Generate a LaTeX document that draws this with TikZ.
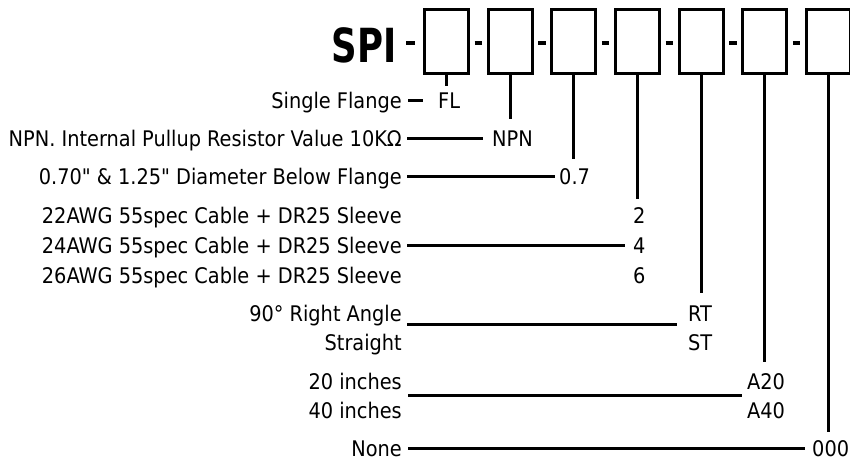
\documentclass[tikz,border=0pt]{standalone}
\usepackage{fontspec}
\setmainfont{DejaVu Sans Condensed}
\usetikzlibrary{calc}
\begin{document}
\begin{tikzpicture}[x=1pt,y=-1pt,
  lab/.style={anchor=base east, inner sep=0pt, font=\fontsize{21.5}{24}\selectfont, text height=15.6pt, text depth=0pt},
  val/.style={anchor=base west, inner sep=0pt, font=\fontsize{21.5}{24}\selectfont, text height=15.6pt, text depth=0pt},
  pbox/.style={draw, line width=3.2pt, minimum width=44pt, minimum height=64pt, inner sep=0pt},
  conn/.style={line width=2.8pt},
  hy/.style={line width=3.5pt}]
\useasboundingbox (0,0) rectangle (850,463);
\clip (0,0) rectangle (850,463);

% title
\node[anchor=base east, inner sep=0pt, font=\bfseries\fontsize{47}{50}\selectfont] (spi) at (397,62) {\scalebox{0.84}[1]{SPI}};

% boxes
\node[pbox] (b1) at (446.5,41.5) {};
\node[pbox] (b2) at (510.2,41.5) {};
\node[pbox] (b3) at (573.8,41.5) {};
\node[pbox] (b4) at (637.5,41.5) {};
\node[pbox] (b5) at (701.2,41.5) {};
\node[pbox] (b6) at (764.8,41.5) {};
\node[pbox] (b7) at (828.5,41.5) {};

% hyphens
\draw[hy] ([xshift=-16.5pt,yshift=-1.5pt]b1.west) -- ([xshift=-7.5pt,yshift=-1.5pt]b1.west);
\draw[hy] ([xshift=4.5pt,yshift=-1.5pt]b1.east) -- ([xshift=-4.5pt,yshift=-1.5pt]b2.west);
\draw[hy] ([xshift=4.5pt,yshift=-1.5pt]b2.east) -- ([xshift=-4.5pt,yshift=-1.5pt]b3.west);
\draw[hy] ([xshift=4.5pt,yshift=-1.5pt]b3.east) -- ([xshift=-4.5pt,yshift=-1.5pt]b4.west);
\draw[hy] ([xshift=4.5pt,yshift=-1.5pt]b4.east) -- ([xshift=-4.5pt,yshift=-1.5pt]b5.west);
\draw[hy] ([xshift=4.5pt,yshift=-1.5pt]b5.east) -- ([xshift=-4.5pt,yshift=-1.5pt]b6.west);
\draw[hy] ([xshift=4.5pt,yshift=-1.5pt]b6.east) -- ([xshift=-4.5pt,yshift=-1.5pt]b7.west);

% left labels
\node[lab] (sf)   at (402,108) {Single Flange};
\node[lab] (npnl) at (402,146) {NPN. Internal Pullup Resistor Value 10KΩ};
\node[lab] (dia)  at (402,184) {0.70\textquotedbl{} \& 1.25\textquotedbl{} Diameter Below Flange};
\node[lab] (c22)  at (402,223) {22AWG 55spec Cable + DR25 Sleeve};
\node[lab] (c24)  at (402,253) {24AWG 55spec Cable + DR25 Sleeve};
\node[lab] (c26)  at (402,283) {26AWG 55spec Cable + DR25 Sleeve};
\node[lab] (ra)   at (402,321) {90° Right Angle};
\node[lab] (str)  at (402,350) {Straight};
\node[lab] (i20)  at (402,389) {20 inches};
\node[lab] (i40)  at (402,418) {40 inches};
\node[lab] (none) at (402,456) {None};

% values
\node[val] (fl)   at (438,108) {FL};
\node[val] (npn)  at (492,146) {NPN};
\node[val] (v07)  at (559,184) {0.7};
\node[val] (v2)   at (633,223) {2};
\node[val] (v4)   at (633,253) {4};
\node[val] (v6)   at (633,283) {6};
\node[val] (rt)   at (688,321) {RT};
\node[val] (st)   at (688,350) {ST};
\node[val] (a20)  at (747,389) {A20};
\node[val] (a40)  at (747,418) {A40};
\node[val] (z000) at (812,456) {000};

% horizontal leaders
\draw[conn] ([xshift=6pt]sf.east) -- ([xshift=-15pt]fl.west);
\draw[conn] ([xshift=5pt]npnl.east) -- ([xshift=-9pt]npn.west);
\draw[conn] ([xshift=5pt]dia.east) -- ([xshift=-4pt]v07.west);
\draw[conn] ([xshift=5pt]c24.east) -- ([xshift=-8pt]v4.west);
\draw[conn] ([xshift=5pt]$(ra.east)!0.4!(str.east)$) -- ([xshift=-11pt]$(rt.west)!0.4!(st.west)$);
\draw[conn] ([xshift=6pt]$(i20.east)!0.5!(i40.east)$) -- ([xshift=-5pt]$(a20.west)!0.5!(a40.west)$);
\draw[conn] ([xshift=6pt]none.east) -- ([xshift=-7pt]z000.west);

% vertical ticks
\draw[conn] (b1.south) -- ($(b1.south |- fl.north)+(0,-6)$);
\draw[conn] (b2.south) -- ($(b2.south |- npn.north)+(0,-11)$);
\draw[conn] (b3.south) -- ($(b3.south |- v07.north)+(0,-9)$);
\draw[conn] (b4.south) -- ($(b4.south |- v2.north)+(0,-8)$);
\draw[conn] (b5.south) -- ($(b5.south |- rt.north)+(0,-12)$);
\draw[conn] (b6.south) -- ($(b6.south |- a20.north)+(0,-11)$);
\draw[conn] (b7.south) -- ($(b7.south |- z000.north)+(0,-8)$);
\end{tikzpicture}
\end{document}
